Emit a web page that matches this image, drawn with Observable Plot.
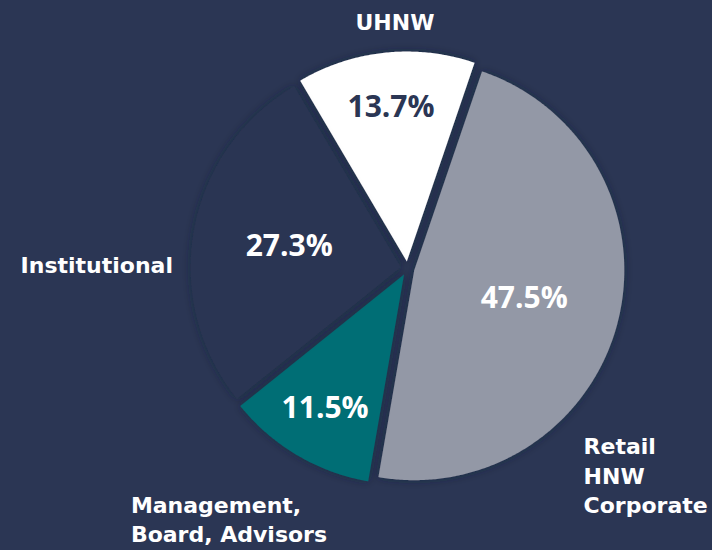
<!DOCTYPE html>
<html>
<head>
<meta charset="utf-8">
<script src="https://cdn.jsdelivr.net/npm/d3@7"></script>
<script src="https://cdn.jsdelivr.net/npm/@observablehq/plot@0.6"></script>
<style>
  html, body { margin: 0; padding: 0; background: #2b3654; }
  #chart svg { display: block; }
</style>
</head>
<body>
<div id="chart"></div>
<script>
// ---- data ----
const categories = ["UHNW", "Retail\nHNW\nCorporate", "Management,\nBoard, Advisors", "Institutional"];
const shares = [13.7, 47.5, 11.5, 27.3];
const sliceColors = ["#ffffff", "#9398a6", "#006e74", "#2a3552"];
const valueTextColors = ["#2b3654", "#ffffff", "#ffffff", "#ffffff"];

// ---- layout / style ----
const startAngle = -30.5 * Math.PI / 180; // clockwise from 12 o'clock
const explode = 0.033;
const labelAnchors = ["middle", "start", "start", "end"];
const labelNudges = [[12, -8], [-58, 146], [-154, 42], [3, 39]];
const valueRadius = v => (v < 20 ? 0.74 : 0.54);

const total = d3.sum(shares);
let acc = startAngle;
const slices = shares.map((v, i) => {
  const a0 = acc;
  const a1 = acc + (v / total) * 2 * Math.PI;
  acc = a1;
  const mid = (a0 + a1) / 2;
  return {cat: categories[i], value: v, a0, a1, mid,
          ox: explode * Math.sin(mid), oy: explode * Math.cos(mid)};
});

const poly = [];
for (const s of slices) {
  poly.push({cat: s.cat, x: s.ox, y: s.oy});
  const n = Math.ceil((s.a1 - s.a0) / (0.5 * Math.PI / 180));
  for (let k = 0; k <= n; k++) {
    const a = s.a0 + (s.a1 - s.a0) * k / n;
    poly.push({cat: s.cat, x: s.ox + Math.sin(a), y: s.oy + Math.cos(a)});
  }
  poly.push({cat: s.cat, x: s.ox, y: s.oy});
}

const valueLabels = slices.map((s, i) => {
  const r = valueRadius(s.value);
  return {x: s.ox + r * Math.sin(s.mid), y: s.oy + r * Math.cos(s.mid),
          text: s.value.toFixed(1) + "%", color: valueTextColors[i]};
});

const outer = slices.map(s => ({x: 1.15 * Math.sin(s.mid), y: 1.15 * Math.cos(s.mid), text: s.cat}));

const chart = Plot.plot({
  width: 712,
  height: 550,
  margin: 0,
  x: {domain: [-1.938, 1.452], axis: null},
  y: {domain: [-1.343, 1.276], axis: null},
  color: {domain: categories, range: sliceColors},
  style: {background: "#2b3654"},
  marks: [
    Plot.line(poly, {x: "x", y: "y", z: "cat", fill: "cat", stroke: "none", curve: "linear"}),
    Plot.text(valueLabels, {x: "x", y: "y", text: "text", fill: d => d.color,
      fontFamily: "Open Sans", fontWeight: 700, fontSize: 30}),
    ...outer.map((d, i) => Plot.text([d], {x: "x", y: "y", text: "text",
      textAnchor: labelAnchors[i], dx: labelNudges[i][0], dy: labelNudges[i][1],
      fill: "#ffffff", fontFamily: "DejaVu Sans", fontWeight: 700, fontSize: 22, lineHeight: 1.33}))
  ]
});

// soft shadow under slices
const ns = "http://www.w3.org/2000/svg";
const defs = document.createElementNS(ns, "defs");
defs.innerHTML = '<filter id="sliceShadow" x="-20%" y="-20%" width="140%" height="140%">' +
  '<feDropShadow dx="0" dy="0" stdDeviation="4" flood-color="#141b2e" flood-opacity="0.5"/></filter>';
chart.insertBefore(defs, chart.firstChild);
chart.querySelectorAll('g[aria-label="line"] path').forEach(p => p.setAttribute("filter", "url(#sliceShadow)"));

document.getElementById("chart").appendChild(chart);
</script>
</body>
</html>
